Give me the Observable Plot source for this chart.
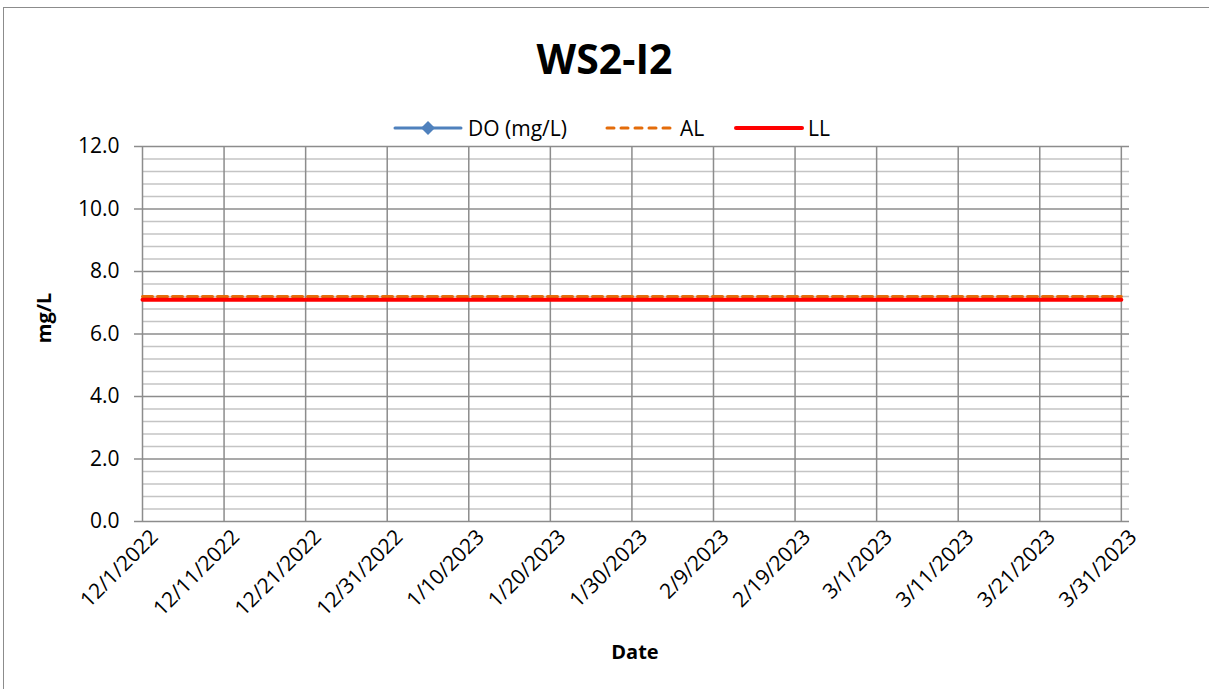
<!DOCTYPE html>
<html>
<head>
<meta charset="utf-8">
<script src="https://cdn.jsdelivr.net/npm/d3@7"></script>
<script src="https://cdn.jsdelivr.net/npm/@observablehq/plot@0.6"></script>
<style>
  html, body { margin: 0; padding: 0; background: #fff; }
  body { width: 1209px; height: 689px; position: relative; overflow: hidden; font-family: "Open Sans", sans-serif; }
  #frame { position: absolute; left: 3px; top: 7px; width: 1220px; height: 700px; border: 1.5px solid #8c8c8c; box-sizing: border-box; }
  #title { position: absolute; left: 0; width: 1209px; top: 30px; text-align: center; font-weight: bold; font-size: 41px; color: #000; line-height: 56px; }
  #legend { position: absolute; top: 0; left: 0; font-size: 21px; color: #000; }
  #legend .sw { position: absolute; top: 120px; }
  #legend .lt { position: absolute; top: 113px; line-height: 30px; white-space: nowrap; }
  #ylab { position: absolute; left: 43px; top: 318px; transform: translate(-50%, -50%) rotate(-90deg); font-weight: bold; font-size: 20px; white-space: nowrap; }
  #xlab { position: absolute; left: 635px; top: 651px; transform: translate(-50%, -50%); font-weight: bold; font-size: 20px; white-space: nowrap; }
  #chart { position: absolute; left: 0; top: 0; }
</style>
</head>
<body>
<div id="chart"></div>
<div id="frame"></div>
<div id="title"></div>
<div id="legend"></div>
<div id="ylab"></div>
<div id="xlab"></div>
<script>
// ---- data ----
const title = "WS2-I2";
const xLabel = "Date";
const yLabel = "mg/L";
const seriesNames = ["DO (mg/L)", "AL", "LL"];
const doDates = [];            // no DO observations plotted
const doValues = [];
const limitDates = ["2022-12-01", "2023-03-31"];
const alValues = [7.2, 7.2];
const llValues = [7.1, 7.1];
const xDomain = ["2022-12-01", "2023-04-01"];
const xTicks = ["2022-12-01", "2022-12-11", "2022-12-21", "2022-12-31", "2023-01-10", "2023-01-20",
                "2023-01-30", "2023-02-09", "2023-02-19", "2023-03-01", "2023-03-11", "2023-03-21", "2023-03-31"];
const yTicks = [0, 2, 4, 6, 8, 10, 12];
const yMinorStep = 0.4;

// ---- build ----
const parse = d3.utcParse("%Y-%m-%d");
const fmt = d => `${d.getUTCMonth() + 1}/${d.getUTCDate()}/${d.getUTCFullYear()}`;
const doData = doDates.map((d, i) => ({date: parse(d), v: doValues[i]}));
const alData = limitDates.map((d, i) => ({date: parse(d), v: alValues[i]}));
const llData = limitDates.map((d, i) => ({date: parse(d), v: llValues[i]}));
const tickDates = xTicks.map(parse);
const minor = d3.range(0, 12 + 1e-9, yMinorStep).map(v => +v.toFixed(2)).filter(v => !yTicks.some(t => Math.abs(t - v) < 1e-6));

const colors = {DO: "#4F81BD", AL: "#E46C0A", LL: "#FF0000"};

const chart = Plot.plot({
  width: 1209,
  height: 689,
  marginLeft: 142,
  marginRight: 80,
  marginTop: 146,
  marginBottom: 168,
  style: {fontFamily: "Open Sans, sans-serif", fontSize: "21px", color: "#000", background: "transparent"},
  x: {type: "utc", domain: xDomain.map(parse)},
  y: {domain: [0, 12]},
  marks: [
    Plot.ruleY(minor, {stroke: "#c4c4c4", strokeWidth: 1.5}),
    Plot.ruleY(yTicks, {stroke: "#8c8c8c", strokeWidth: 1.5}),
    Plot.ruleX(tickDates, {stroke: "#8c8c8c", strokeWidth: 1.5}),
    Plot.axisY({ticks: yTicks, tickFormat: d => d.toFixed(1), tickSize: 8, tickPadding: 15, stroke: "#8c8c8c", strokeWidth: 1.5, label: null, fontSize: 21}),
    Plot.axisX({ticks: tickDates, tickFormat: fmt, tickSize: 0, tickRotate: -45, tickPadding: 12, dx: 12, label: null, fontSize: 21}),
    Plot.line(doData, {x: "date", y: "v", stroke: colors.DO, strokeWidth: 3}),
    Plot.dot(doData, {x: "date", y: "v", fill: colors.DO, symbol: "diamond", r: 5}),
    Plot.line(alData, {x: "date", y: "v", stroke: colors.AL, strokeWidth: 3, strokeDasharray: "10,5"}),
    Plot.line(llData, {x: "date", y: "v", stroke: colors.LL, strokeWidth: 4})
  ]
});
document.getElementById("chart").appendChild(chart);

document.getElementById("title").textContent = title;
document.getElementById("ylab").textContent = yLabel;
document.getElementById("xlab").textContent = xLabel;

// legend
const legend = document.getElementById("legend");
const swatchX = [393, 605, 734];
const textX = [468, 680, 808];
const sample = (kind) => {
  const ns = "http://www.w3.org/2000/svg";
  const svg = document.createElementNS(ns, "svg");
  svg.setAttribute("width", 72); svg.setAttribute("height", 16);
  const l = document.createElementNS(ns, "line");
  l.setAttribute("x1", 2); l.setAttribute("x2", 68); l.setAttribute("y1", 8); l.setAttribute("y2", 8);
  l.setAttribute("stroke-linecap", "round");
  if (kind === 0) { l.setAttribute("stroke", colors.DO); l.setAttribute("stroke-width", 3); }
  if (kind === 1) { l.setAttribute("stroke", colors.AL); l.setAttribute("stroke-width", 3); l.setAttribute("stroke-dasharray", "7,7"); }
  if (kind === 2) { l.setAttribute("stroke", colors.LL); l.setAttribute("stroke-width", 4); }
  svg.appendChild(l);
  if (kind === 0) {
    const p = document.createElementNS(ns, "path");
    p.setAttribute("d", "M35,1 L42,8 L35,15 L28,8 Z");
    p.setAttribute("fill", colors.DO);
    svg.appendChild(p);
  }
  return svg;
};
seriesNames.forEach((name, i) => {
  const sw = sample(i);
  sw.setAttribute("class", "sw");
  sw.style.left = swatchX[i] + "px";
  legend.appendChild(sw);
  const t = document.createElement("div");
  t.className = "lt";
  t.style.left = textX[i] + "px";
  t.textContent = name;
  legend.appendChild(t);
});
</script>
</body>
</html>
